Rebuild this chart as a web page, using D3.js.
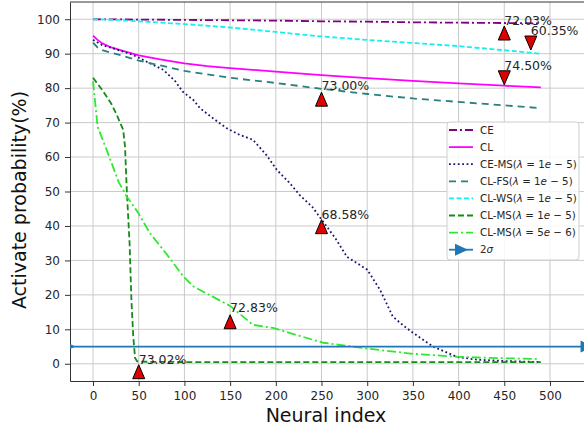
<!DOCTYPE html>
<html>
<head>
<meta charset="utf-8">
<script src="https://cdn.jsdelivr.net/npm/d3@7"></script>
<style>
  body { margin: 0; background: #fff; }
  svg { display: block; font-family: "DejaVu Sans", sans-serif; }
</style>
</head>
<body>
<div id="main"></div>
<script>
// ---- data ----
var xTicks = [0, 50, 100, 150, 200, 250, 300, 350, 400, 450, 500];
var yTicks = [0, 10, 20, 30, 40, 50, 60, 70, 80, 90, 100];

var ceIdx = [0, 50, 100, 150, 200, 250, 300, 350, 400, 450, 490];
var ceVal = [100, 99.9, 99.8, 99.7, 99.6, 99.4, 99.3, 99.1, 99.0, 98.9, 98.8];

var clIdx = [0, 5, 10, 20, 30, 50, 75, 100, 125, 150, 200, 250, 300, 350, 400, 450, 490];
var clVal = [95.2, 94, 93, 91.8, 91, 89.5, 88.3, 87.2, 86.4, 85.8, 84.8, 83.8, 82.9, 82.1, 81.4, 80.7, 80.2];

var cemsIdx = [0, 10, 25, 44, 60, 77, 90, 98, 110, 117, 130, 146, 160, 175, 190, 201, 215, 226, 240, 248, 265, 278, 290, 300, 314, 328, 340, 350, 362, 372, 385, 398, 420, 450, 490];
var cemsVal = [94, 92.5, 91.3, 89.6, 87.5, 85.3, 82, 79, 76.5, 74.2, 71.5, 68.4, 66.5, 65, 60.5, 56.3, 52.5, 49, 45.5, 42.6, 36.5, 31, 29, 27.3, 21.5, 13.7, 11, 9, 6.8, 5, 3.5, 2, 1.2, 0.8, 0.5];

var clfsIdx = [0, 5, 10, 20, 30, 50, 75, 100, 150, 200, 250, 300, 350, 400, 450, 490];
var clfsVal = [93.2, 91.8, 91, 90.3, 89.6, 88, 86.5, 85, 83, 81.5, 79.8, 78.3, 77, 76, 75, 74.2];

var clwsIdx = [0, 25, 50, 100, 150, 200, 250, 300, 350, 400, 450, 490];
var clwsVal = [100, 99.8, 99.4, 98.6, 97.6, 96.3, 95.0, 94.0, 93.1, 92.2, 91.0, 90.0];

var clms1Idx = [0, 10, 20, 26, 33, 35, 37, 38, 40, 42, 44, 46, 48, 50, 100, 200, 300, 400, 490];
var clms1Val = [83, 79.5, 75.5, 72.2, 67.9, 63, 50, 45, 35, 18.5, 8, 1.7, 0.8, 0.6, 0.5, 0.5, 0.5, 0.5, 0.5];

var clms2Idx = [0, 5, 15, 28, 37, 49, 62, 80, 99, 110, 150, 175, 197, 222, 252, 300, 350, 401, 450, 487];
var clms2Val = [82, 68.8, 62, 52.8, 48.5, 44, 38, 32, 25.3, 22.4, 16.8, 11.3, 10.4, 8.4, 6.1, 4.4, 2.9, 2, 1.6, 1.4];

var sigmaIdx = [-27, 540];
var sigmaVal = [5, 5];

// annotation points: x, marker y, text y, label, direction
var annX     = [50, 150, 250, 250, 450, 479, 450];
var annMark  = [-2.3, 12.2, 76.8, 39.8, 96, 93.1, 83];
var annText  = [0, 15, 79.5, 42, 98.3, 95.4, 85.3];
var annLabel = ["73.02%", "72.83%", "73.00%", "68.58%", "72.03%", "60.35%", "74.50%"];
var annDir   = ["up", "up", "up", "up", "up", "down", "down"];

// ---- layout ----
var width = 584, height = 430;
var padL = 70, padT = 2, padR = 586, padB = 381;

var svg = d3.select('#main').append('svg')
    .attr('width', width).attr('height', height);

var x = d3.scaleLinear().domain([-25.2, 539.4]).range([padL, padR]);
var y = d3.scaleLinear().domain([-5, 105]).range([padB, padT]);

svg.append('defs').append('clipPath').attr('id', 'plot')
    .append('rect').attr('x', padL).attr('y', padT)
    .attr('width', padR - padL).attr('height', padB - padT);

// grid
var grid = svg.append('g').attr('stroke', '#c4c4c4').attr('stroke-width', 0.9);
grid.selectAll('.gx').data(xTicks).join('line')
    .attr('x1', d => x(d)).attr('x2', d => x(d))
    .attr('y1', padT).attr('y2', padB);
grid.selectAll('.gy').data(yTicks).join('line')
    .attr('x1', padL).attr('x2', padR)
    .attr('y1', d => y(d)).attr('y2', d => y(d));

// axes
var xAxis = svg.append('g').attr('transform', 'translate(0,' + padB + ')')
    .call(d3.axisBottom(x).tickValues(xTicks).tickSize(5).tickSizeOuter(0).tickPadding(5.5));
var yAxis = svg.append('g').attr('transform', 'translate(' + padL + ',0)')
    .call(d3.axisLeft(y).tickValues(yTicks).tickSize(5).tickSizeOuter(0).tickPadding(5));
[xAxis, yAxis].forEach(function (a) {
    a.selectAll('text').attr('font-size', 12).attr('fill', '#262626')
        .attr('font-family', '"DejaVu Sans", sans-serif');
    a.selectAll('line').attr('stroke', '#333');
    a.select('.domain').attr('stroke', '#333');
});
svg.append('line').attr('x1', padL).attr('x2', padR).attr('y1', padT).attr('y2', padT)
    .attr('stroke', '#333');

svg.append('text').attr('x', 326).attr('y', 422).attr('text-anchor', 'middle')
    .attr('font-size', 19).attr('fill', '#111').text('Neural index');
svg.append('text').attr('transform', 'translate(26,200) rotate(-90)')
    .attr('text-anchor', 'middle').attr('font-size', 19).attr('fill', '#111')
    .text('Activate probability(%)');

// series
var series = [
    {name: 'CE', idx: ceIdx, val: ceVal, color: '#800080', dash: '8,3,2,3'},
    {name: 'CL', idx: clIdx, val: clVal, color: '#ff00ff', dash: null},
    {name: 'CE-MS', lam: '1', idx: cemsIdx, val: cemsVal, color: '#191970', dash: '1.8,2.6'},
    {name: 'CL-FS', lam: '1', idx: clfsIdx, val: clfsVal, color: '#2a7f7f', dash: '7,5'},
    {name: 'CL-WS', lam: '1', idx: clwsIdx, val: clwsVal, color: '#14f0f0', dash: '5,2.5'},
    {name: 'CL-MS', lam: '1', idx: clms1Idx, val: clms1Val, color: '#178a17', dash: '6,3'},
    {name: 'CL-MS', lam: '5', exp: '6', idx: clms2Idx, val: clms2Val, color: '#2ee82e', dash: '9,3,2,3'}
];

var line = d3.line().x(d => x(d[0])).y(d => y(d[1]));
var plot = svg.append('g').attr('clip-path', 'url(#plot)');

series.forEach(function (s) {
    plot.append('path')
        .attr('d', line(d3.zip(s.idx, s.val)))
        .attr('fill', 'none')
        .attr('stroke', s.color)
        .attr('stroke-width', 1.8)
        .attr('stroke-dasharray', s.dash);
});

// 2 sigma line with triangle markers
var sigmaColor = '#1f77b4';
var triRight = 'M7,0L-6,-6L-6,6Z';
plot.append('path').attr('d', line(d3.zip(sigmaIdx, sigmaVal)))
    .attr('fill', 'none').attr('stroke', sigmaColor).attr('stroke-width', 1.8);
plot.selectAll('.sm').data(d3.zip(sigmaIdx, sigmaVal)).join('path')
    .attr('d', triRight).attr('fill', sigmaColor)
    .attr('transform', d => 'translate(' + x(d[0]) + ',' + y(d[1]) + ')');

// annotations
var ann = d3.range(annX.length);
svg.selectAll('.mk').data(ann).join('path')
    .attr('d', i => annDir[i] === 'up' ? 'M0,-7L6,7L-6,7Z' : 'M0,7L6,-7L-6,-7Z')
    .attr('fill', '#e00000').attr('stroke', '#000').attr('stroke-width', 1)
    .attr('transform', i => 'translate(' + x(annX[i]) + ',' + y(annMark[i]) + ')');
svg.selectAll('.an').data(ann).join('text')
    .attr('x', i => x(annX[i])).attr('y', i => y(annText[i]))
    .attr('font-size', 12.5).attr('fill', '#262626')
    .text(i => annLabel[i]);

// legend
var lg = svg.append('g');
lg.append('rect').attr('x', 447).attr('y', 122).attr('width', 132).attr('height', 138)
    .attr('rx', 3).attr('fill', '#fff').attr('fill-opacity', 0.85)
    .attr('stroke', '#cfcfcf');
var rows = series.concat([{name: 'sigma', color: sigmaColor, dash: null}]);
rows.forEach(function (s, i) {
    var cy = 130 + i * 17.1;
    lg.append('line').attr('x1', 449).attr('x2', 473).attr('y1', cy).attr('y2', cy)
        .attr('stroke', s.color).attr('stroke-width', 1.8)
        .attr('stroke-dasharray', s.dash);
    var t = lg.append('text').attr('x', 480).attr('y', cy + 3.7)
        .attr('font-size', 10.3).attr('fill', '#262626');
    if (s.name === 'sigma') {
        lg.append('path').attr('d', triRight).attr('fill', s.color)
            .attr('transform', 'translate(461,' + cy + ')');
        t.append('tspan').text('2');
        t.append('tspan').attr('font-style', 'italic').text('σ');
    } else if (s.lam) {
        t.append('tspan').text(s.name + '(');
        t.append('tspan').attr('font-style', 'italic').text('λ');
        t.append('tspan').text(' = ' + s.lam);
        t.append('tspan').attr('font-style', 'italic').text('e');
        t.append('tspan').text(' − ' + (s.exp || '5') + ')');
    } else {
        t.text(s.name);
    }
});
</script>
</body>
</html>
